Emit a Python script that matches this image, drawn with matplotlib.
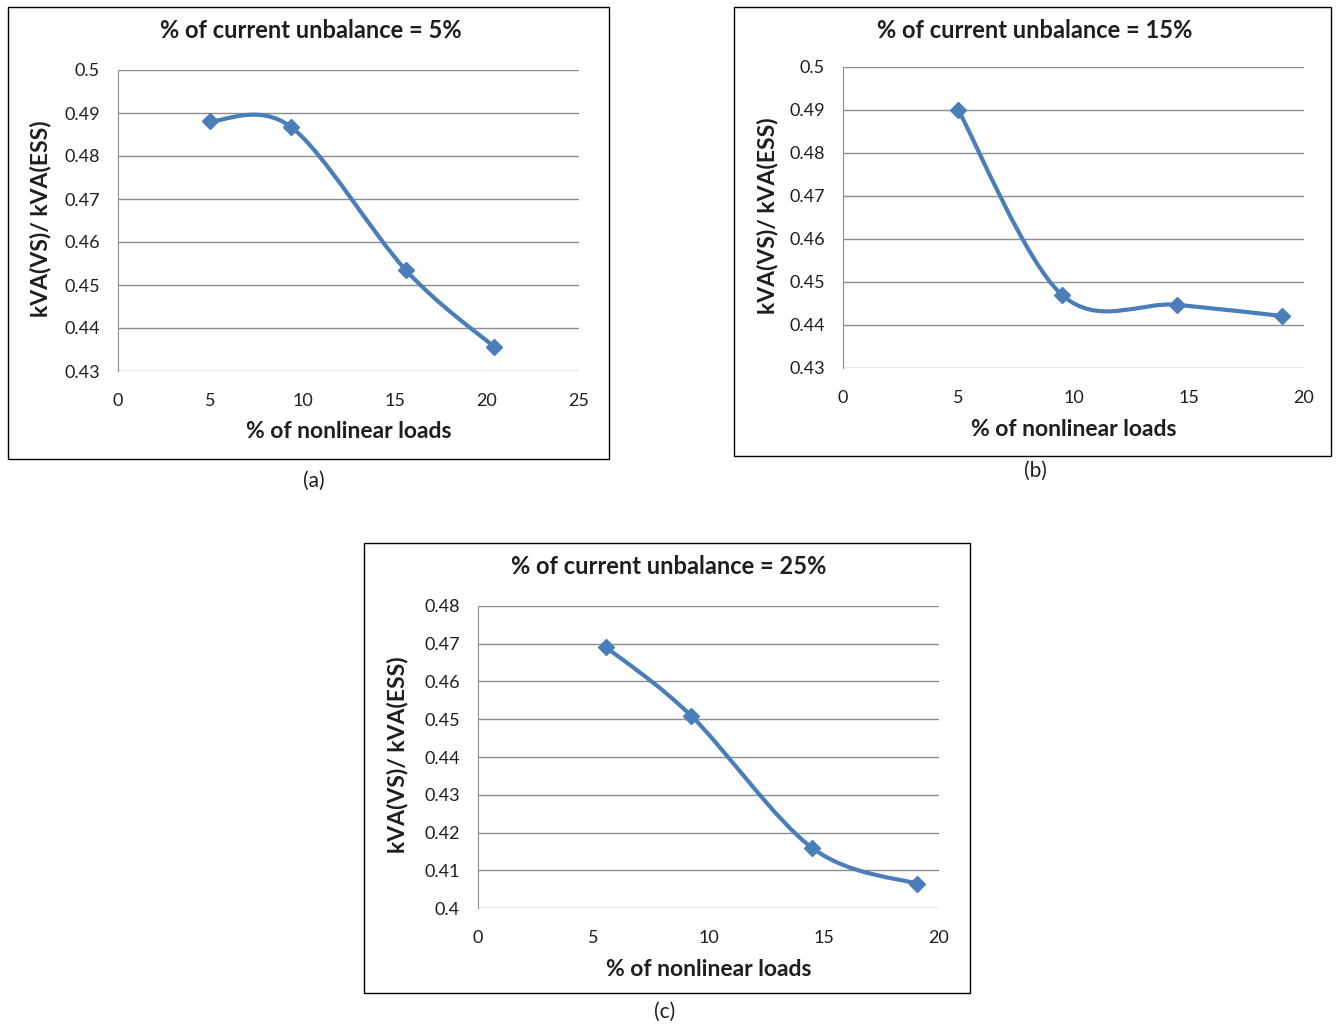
import numpy as np
import matplotlib
matplotlib.use("Agg")
import matplotlib.pyplot as plt
from matplotlib.path import Path
from matplotlib.patches import PathPatch, Rectangle

plt.rcParams['font.family'] = ['Lato', 'DejaVu Sans']

# data
x_a = [5.0, 9.4, 15.6, 20.4]
y_a = [0.4881, 0.4867, 0.4535, 0.4356]

x_b = [5.0, 9.5, 14.5, 19.05]
y_b = [0.4900, 0.4470, 0.4447, 0.4421]

x_c = [5.55, 9.25, 14.5, 19.05]
y_c = [0.4691, 0.4509, 0.4159, 0.4064]

titles = ['% of current unbalance = 5%',
          '% of current unbalance = 15%',
          '% of current unbalance = 25%']
captions = ['(a)', '(b)', '(c)']
ylabel = 'kVA(VS)/ kVA(ESS)'
xlabel = '% of nonlinear loads'

W, H = 1336, 1026
fig = plt.figure(figsize=(W / 100, H / 100), dpi=100)
fig.patch.set_facecolor('white')

blue = '#4A7EBB'
grid = '#8C8C8C'
txt = '#1E1E1E'


def fx(px):
    return px / W


def fy(py):
    return 1 - py / H


def smooth_path(xs, ys):
    # excel-like smoothed line: bezier through points (catmull-rom handles)
    pts = np.column_stack([xs, ys])
    n = len(pts)
    verts = [pts[0]]
    codes = [Path.MOVETO]
    for i in range(n - 1):
        p0 = pts[i - 1] if i > 0 else pts[i]
        p1 = pts[i]
        p2 = pts[i + 1]
        p3 = pts[i + 2] if i + 2 < n else pts[i + 1]
        c1 = p1 + (p2 - p0) / 6
        c2 = p2 - (p3 - p1) / 6
        verts += [c1, c2, p2]
        codes += [Path.CURVE4] * 3
    return Path(verts, codes)


def panel(box, axpx, xs, ys, xmax, ymin, ymax, ystep, title, cap, cap_xy):
    # frame of the chart
    l, t, r, b = box
    fig.patches.append(Rectangle((fx(l), fy(b)), fx(r - l), (b - t) / H,
                                 transform=fig.transFigure, fill=False,
                                 edgecolor='black', lw=1.0))
    al, at, ar, ab = axpx
    ax = fig.add_axes([fx(al), fy(ab), fx(ar - al), (ab - at) / H])
    ax.set_xlim(0, xmax)
    ax.set_ylim(ymin, ymax)
    ax.set_xticks(np.arange(0, xmax + 1, 5))
    yt = np.round(np.arange(ymin, ymax + ystep / 2, ystep), 3)
    ax.set_yticks(yt)
    ax.set_yticklabels(['%g' % v for v in yt])
    ax.yaxis.grid(True, color=grid, lw=1.0)
    ax.set_axisbelow(True)
    for s in ['top', 'right', 'bottom']:
        ax.spines[s].set_visible(False)
    ax.spines['left'].set_color(grid)
    ax.tick_params(length=0, labelsize=13, colors=txt)
    ax.tick_params(axis='x', pad=16)
    ax.tick_params(axis='y', pad=13)
    ax.add_patch(PathPatch(smooth_path(xs, ys), fill=False, edgecolor=blue,
                           lw=3.0, capstyle='round', zorder=3))
    ax.plot(xs, ys, ls='none', marker='D', ms=8.5, color=blue, zorder=4)
    ax.set_facecolor('none')

    fig.text(fx((l + r) / 2 + 2), fy(t + 24), title, ha='center', va='center',
             fontsize=17, fontweight='bold', color=txt)
    fig.text(fx((al + ar) / 2), fy(ab + 61), xlabel, ha='center', va='center',
             fontsize=16.5, fontweight='bold', color=txt)
    fig.text(fx(l + 33), fy((at + ab) / 2 - 2), ylabel, ha='center', va='center',
             rotation=90, fontsize=16.5, fontweight='bold', color=txt)
    fig.text(fx(cap_xy[0]), fy(cap_xy[1]), cap, ha='center', va='center',
             fontsize=15, color=txt)
    return ax


panel((8, 7, 609, 459), (118, 70, 579, 371), x_a, y_a, 25, 0.43, 0.5, 0.01,
      titles[0], captions[0], (314, 481))
panel((734, 7, 1331, 456), (843, 67, 1304, 368), x_b, y_b, 20, 0.43, 0.5, 0.01,
      titles[1], captions[1], (1035, 471))
panel((364, 543, 970, 993), (478, 606, 939, 908), x_c, y_c, 20, 0.40, 0.48, 0.01,
      titles[2], captions[2], (665, 1012))

fig.savefig('out.png', dpi=100)
